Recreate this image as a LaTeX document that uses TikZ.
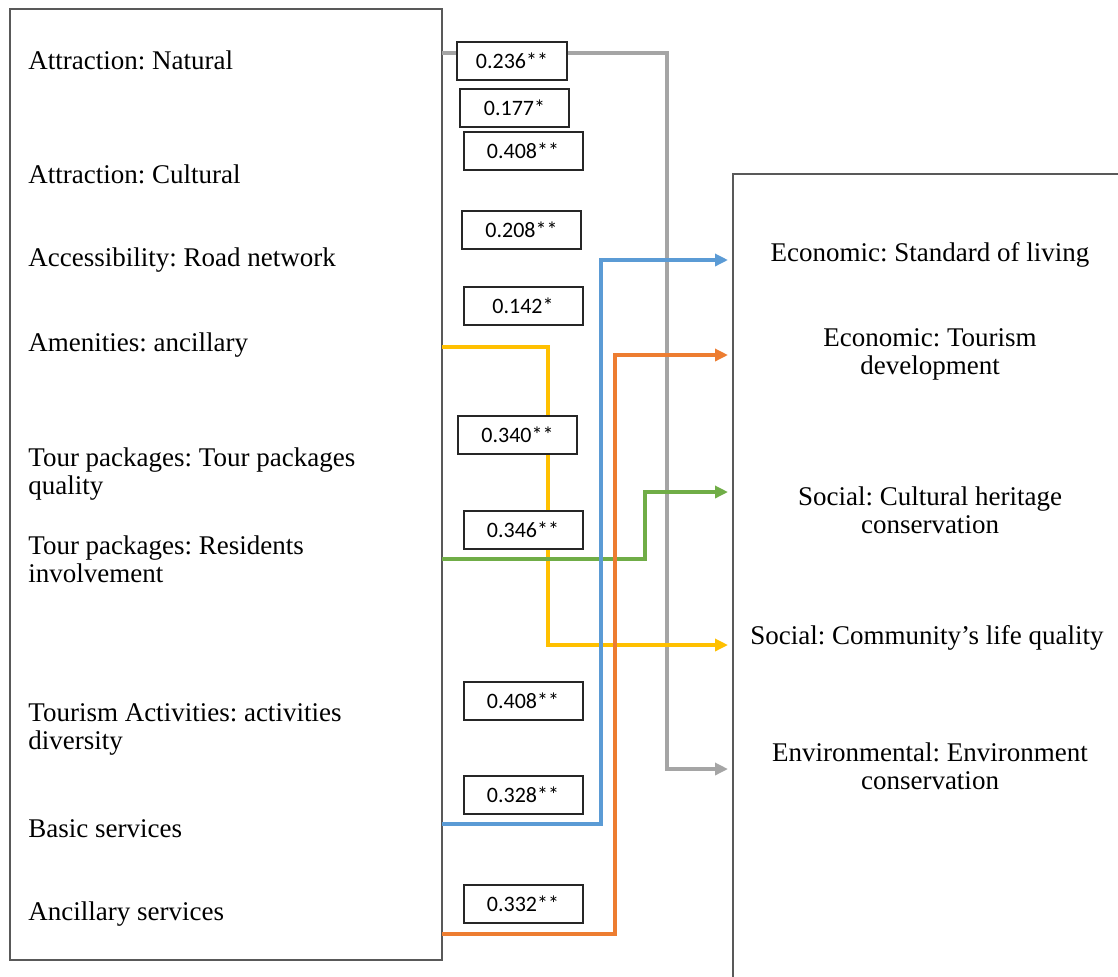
\documentclass[tikz,border=0pt]{standalone}
\usepackage{fontspec}
\setmainfont{Liberation Serif}
\newfontfamily\numfont{Carlito}
\usetikzlibrary{arrows.meta}
\frenchspacing

\definecolor{linkgray}{RGB}{165,165,165}
\definecolor{linkyellow}{RGB}{255,192,0}
\definecolor{linkgreen}{RGB}{112,173,71}
\definecolor{linkblue}{RGB}{91,155,213}
\definecolor{linkorange}{RGB}{237,125,49}

\begin{document}
\begin{tikzpicture}[x=0.5pt, y=-0.5pt, >={Triangle[length=6.5pt, width=6pt]},
    panel/.style={draw=black!65, line width=0.8pt},
    lbl/.style={anchor=west, align=left, inner sep=0pt, font=\fontsize{13.5}{14}\selectfont},
    rlbl/.style={align=center, inner sep=0pt, font=\fontsize{13.5}{14}\selectfont},
    numbox/.style={draw=black!85, fill=white, line width=1pt, minimum width=59.5pt,
      minimum height=19pt, inner sep=0pt, font=\numfont\fontsize{11}{12}\selectfont},
    link/.style={line width=1.7pt, ->}]

    \clip (0,0) rectangle (1118,976);

    % 1. two panels
    \draw[panel] (10,9) rectangle (442,960);
    \draw[panel] (733,174) rectangle (1140,1000);

    % 2. left labels
    \node[lbl] (nat) at (28,60) {Attraction: Natural};
    \node[lbl] (cult) at (28,174) {Attraction: Cultural};
    \node[lbl] (road) at (28,260) {Accessibility: Road network};
    \node[lbl] (amen) at (28,345) {Amenities: ancillary};
    \node[lbl] (tpq) at (28,474) {Tour packages: Tour packages\\quality};
    \node[lbl] (tpr) at (28,559) {Tour packages: Residents\\involvement};
    \node[lbl] (act) at (28,729) {Tourism Activities: activities\\diversity};
    \node[lbl] (basic) at (28,829) {Basic services};
    \node[lbl] (ancil) at (28,914) {Ancillary services};

    % 3. right labels
    \node[rlbl] (stand) at (930,255) {Economic: Standard of living};
    \node[rlbl] (tdev) at (930,354) {Economic: Tourism\\development};
    \node[rlbl] (herit) at (930,510) {Social: Cultural heritage\\conservation};
    \node[rlbl] (life) at (927,638) {Social: Community’s life quality};
    \node[rlbl] (envc) at (930,766) {Environmental: Environment\\conservation};

    % 4. ends of the connectors
    \coordinate (natOut) at (442,53);
    \coordinate (amenOut) at (442,347);
    \coordinate (tprOut) at (442,559);
    \coordinate (basicOut) at (442,824);
    \coordinate (ancilOut) at (442,934);
    \coordinate (standIn) at (728,260);
    \coordinate (tdevIn) at (728,355);
    \coordinate (heritIn) at (728,492);
    \coordinate (lifeIn) at (728,645);
    \coordinate (envcIn) at (728,769);

    % 5. connectors
    \draw[link, linkgray] (natOut) -| (667,700) |- (envcIn);
    \draw[link, linkyellow] (amenOut) -| (548,600) |- (lifeIn);
    \draw[link, linkgreen] (tprOut) -| (645,520) |- (heritIn);
    \draw[link, linkblue] (basicOut) -| (601,500) |- (standIn);
    \draw[link, linkorange] (ancilOut) -| (615,600) |- (tdevIn);

    % 6. coefficients
    \node[numbox, minimum width=55pt] (c1) at (512,61) {0.236**};
    \node[numbox, minimum width=54.5pt] (c2) at (514.5,107.5) {0.177*};
    \node[numbox] (c3) at (523,150.5) {0.408**};
    \node[numbox] (c4) at (521.5,230) {0.208**};
    \node[numbox] (c5) at (523,305.5) {0.142*};
    \node[numbox] (c6) at (517.5,434.5) {0.340**};
    \node[numbox] (c7) at (523,529.5) {0.346**};
    \node[numbox] (c8) at (523,700.5) {0.408**};
    \node[numbox] (c9) at (523,794.5) {0.328**};
    \node[numbox] (c10) at (523,903.5) {0.332**};

\end{tikzpicture}
\end{document}
